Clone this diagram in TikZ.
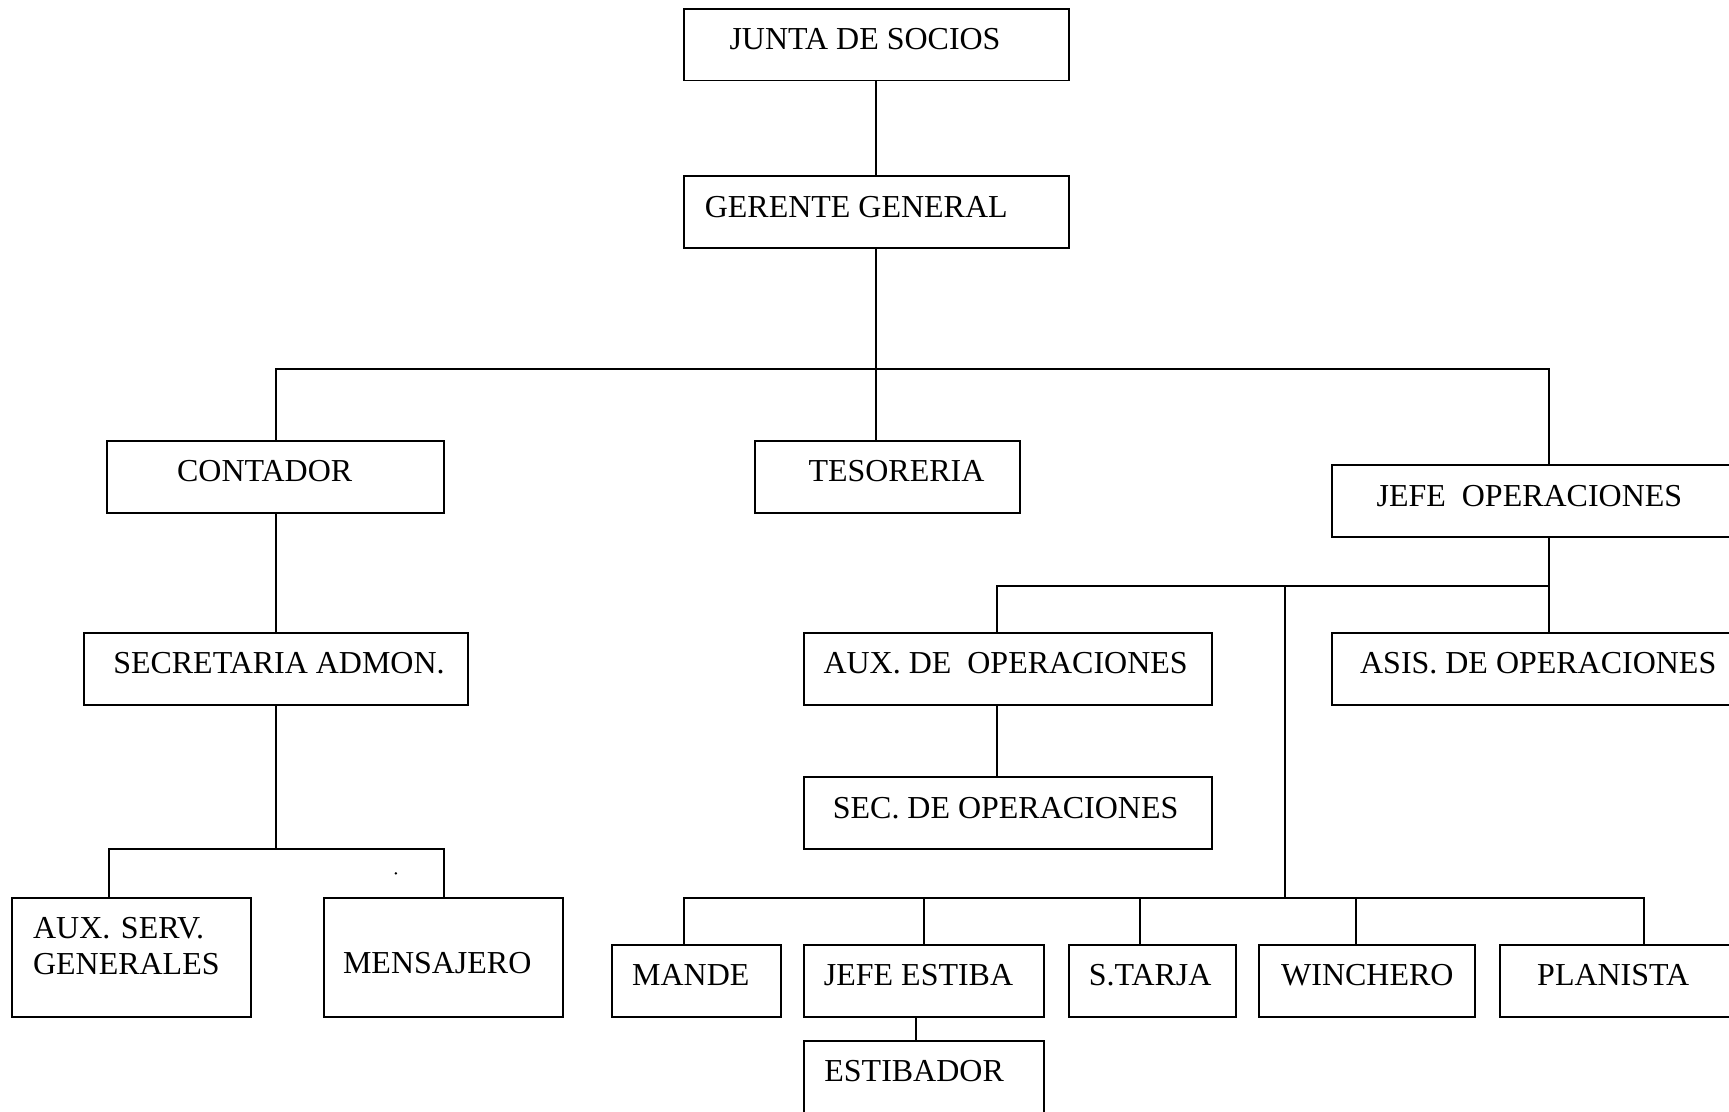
\documentclass[tikz,border=0pt]{standalone}
\usepackage{fontspec}
\setmainfont{Liberation Serif}
\usepackage{tikz}
\usetikzlibrary{positioning, calc}

\tikzset{
  cargo/.style={draw, line width=0.9pt, inner xsep=0pt, inner ysep=0pt, text height=18.5pt, text depth=14pt, font=\fontsize{14.5pt}{16.2pt}\selectfont},
  alto/.style={text height=#1, text depth=54pt-#1},
  tx/.style={execute at begin node={\hspace*{#1}}, execute at end node={\hspace*{-#1}}},
  linea/.style={line width=0.9pt}
}

\begin{document}
\begin{tikzpicture}[x=0.5pt, y=-0.5pt]
  \useasboundingbox (0,0) rectangle (1568,1008);
  \clip (0,0) rectangle (1568,1008);

  % Direccion
  \node[cargo, minimum width=174.5pt, tx=-5pt] (junta) at (794.5, 40.5) {JUNTA DE SOCIOS};
  \node[cargo, minimum width=174.5pt, tx=-9pt] (gerente) at (794.5, 192.5) {GERENTE GENERAL};

  % Segundo nivel
  \node[cargo, minimum width=153pt, tx=-5pt] (contador) at (250, 432.5) {CONTADOR};
  \node[cargo, minimum width=120pt, tx=4pt] (tesoreria) at (805, 432.5) {TESORERIA};
  \node[cargo, minimum width=197pt, tx=-9pt] (jefeop) at (1405, 454.5) {JEFE~~OPERACIONES};

  % Administracion
  \node[cargo, minimum width=174pt, tx=1.5pt] (secretaria) at (250, 606.5) {SECRETARIA ADMON.};
  \node[cargo, minimum width=108.5pt, minimum height=54pt, alto=18.5pt, text width=89.5pt, align=left] (auxserv) at (119.5, 868) {AUX. SERV.\\GENERALES};
  \node[cargo, minimum width=108.5pt, alto=34.5pt, tx=-3pt] (mensajero) at (402.5, 868) {MENSAJERO};
  \node[circle, fill, inner sep=0pt, minimum size=1.2pt] (punto) at (359, 792) {};

  % Operaciones
  \node[cargo, minimum width=185pt, tx=-1pt] (auxop) at (914, 606.5) {AUX. DE~~OPERACIONES};
  \node[cargo, minimum width=197pt, tx=-5pt] (asis) at (1405, 606.5) {ASIS. DE OPERACIONES};
  \node[cargo, minimum width=185pt, tx=-1pt] (secop) at (914, 737.5) {SEC. DE OPERACIONES};

  \node[cargo, minimum width=76.5pt, tx=-2.5pt] (mande) at (631.5, 889.5) {MANDE};
  \node[cargo, minimum width=109pt, tx=-2.5pt] (jefeestiba) at (838, 889.5) {JEFE ESTIBA};
  \node[cargo, minimum width=76pt, tx=-1pt] (starja) at (1045, 889.5) {S.TARJA};
  \node[cargo, minimum width=98pt] (winchero) at (1240, 889.5) {WINCHERO};
  \node[cargo, minimum width=131pt, tx=-14pt] (planista) at (1491, 889.5) {PLANISTA};
  \node[cargo, minimum width=109pt, tx=-4.5pt] (estibador) at (838, 976.5) {ESTIBADOR};

  % Lineas de mando
  \coordinate (bus1) at (794.5, 335);
  \coordinate (bus2) at (250, 770);
  \coordinate (bus3) at (1405, 531);
  \coordinate (bus4) at (1165, 814);

  \draw[linea] (junta) -- (gerente);
  \draw[linea] (gerente) -- (tesoreria.north -| gerente);
  \draw[linea] (contador) |- (bus1) -| (jefeop);

  \draw[linea] (contador) -- (secretaria);
  \draw[linea] (secretaria) -- (bus2);
  \draw[linea] ([xshift=-10.25pt]auxserv.north) |- (bus2) -| (mensajero.north);

  \draw[linea] (jefeop) -- (asis);
  \draw[linea] ([xshift=-5pt]auxop.north) |- (bus3);
  \draw[linea] ([xshift=-5pt]auxop.south) -- ([xshift=-5pt]secop.north);
  \draw[linea] (bus3 -| bus4) -- (bus4);

  \draw[linea] ([xshift=-5.75pt]mande.north) |- (bus4) -| (planista);
  \draw[linea] (bus4 -| jefeestiba) -- (jefeestiba);
  \draw[linea] ([xshift=-5.5pt]starja.north) -- ([xshift=-5.5pt]starja.north |- bus4);
  \draw[linea] ([xshift=-5pt]winchero.north) -- ([xshift=-5pt]winchero.north |- bus4);
  \draw[linea] ([xshift=-3.5pt]jefeestiba.south) -- ([xshift=-3.5pt]estibador.north);
\end{tikzpicture}
\end{document}
